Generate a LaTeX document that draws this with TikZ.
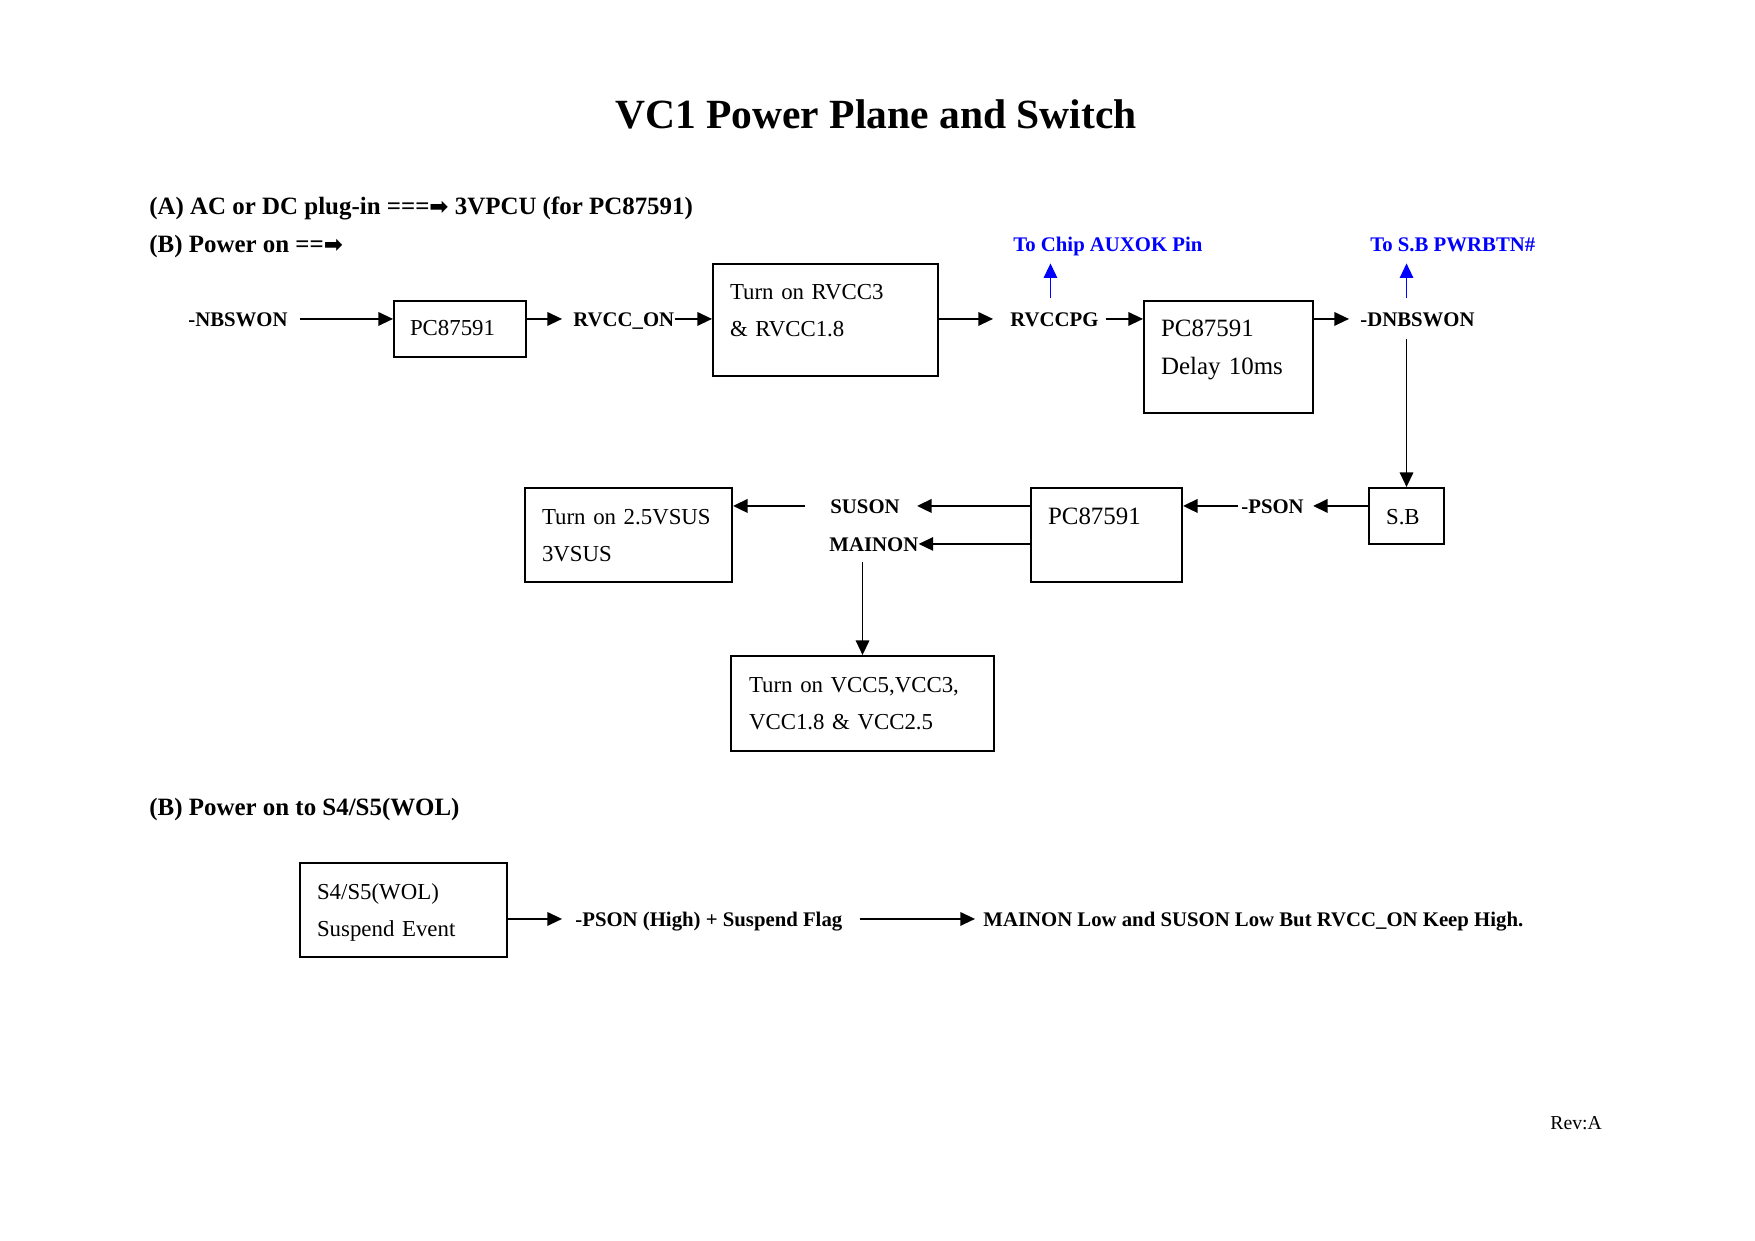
\documentclass[tikz,border=0pt]{standalone}
\usepackage{fontspec}
\setmainfont{Liberation Serif}
\newfontfamily\dingfont{DejaVu Sans}
\usetikzlibrary{arrows.meta,calc}
\newdimen\pxu
\pxu=0.16923mm
\definecolor{sigblue}{RGB}{0,0,255}

\begin{document}
\begin{tikzpicture}[x=0.16923mm, y=-0.16923mm, >={Triangle[length=7pt,width=6.5pt]},
    blk/.style={draw, line width=1pt, anchor=north west, align=left, inner ysep=0pt,
        inner xsep=17\pxu, font=\fontsize{11}{17.8}\selectfont},
    lbl/.style={anchor=base west, inner sep=0pt, text height=6.8pt, text depth=0pt,
        font=\bfseries\fontsize{10}{12}\selectfont},
    head/.style={anchor=base west, inner sep=0pt, font=\bfseries\fontsize{12}{14}\selectfont},
    wire/.style={->, line width=0.7pt},
    bus/.style={->, line width=1.1pt}]
    \useasboundingbox (0,0) rectangle (1755,1240);

    % Titolo e intestazioni
    \node[anchor=base, inner sep=0pt, font=\bfseries\fontsize{20}{24}\selectfont] (title) at (876,128)
        {VC1 Power Plane and Switch};
    \node[head] (headA) at (149,214) {(A) AC or DC plug-in ===\mbox{\dingfont\fontsize{11}{14}\selectfont ➡} 3VPCU (for PC87591)};
    \node[head] (headB) at (149,252) {(B) Power on ==\mbox{\dingfont\fontsize{11}{14}\selectfont ➡}};
    \node[head] (headC) at (149,815) {(B) Power on to S4/S5(WOL)};
    \node[anchor=base west, inner sep=0pt, font=\fontsize{9.5}{11}\selectfont] (rev) at (1550,1129) {Rev:A};

    % Blocchi
    \node[blk, inner xsep=16\pxu, text width=100\pxu, text height=34\pxu, text depth=22\pxu] (pc1) at (393,300) {PC87591};
    \node[blk, text width=191\pxu, text height=35\pxu, text depth=77\pxu] (rvcc) at (712,263) {Turn on RVCC3\\\& RVCC1.8};
    \node[blk, font=\fontsize{12}{18.3}\selectfont, text width=135\pxu, text height=35\pxu, text depth=77\pxu] (dly) at (1143,300) {PC87591\\Delay 10ms};
    \node[blk, text width=41\pxu, text height=36\pxu, text depth=20\pxu] (sb) at (1368,487) {S.B};
    \node[blk, font=\fontsize{12}{18.3}\selectfont, text width=117\pxu, text height=36\pxu, text depth=58\pxu] (pc2) at (1030,487) {PC87591};
    \node[blk, text width=173\pxu, text height=36\pxu, text depth=58\pxu] (sus) at (524,487) {Turn on 2.5VSUS\\3VSUS};
    \node[blk, inner xsep=18\pxu, text width=227\pxu, text height=36\pxu, text depth=59\pxu] (vcc) at (730,655) {Turn on VCC5,VCC3,\\VCC1.8 \& VCC2.5};
    \node[blk, text width=173\pxu, text height=36\pxu, text depth=58\pxu] (wol) at (299,862) {S4/S5(WOL)\\Suspend Event};

    % Segnali
    \node[lbl] (nbswon) at (188,326) {-NBSWON};
    \node[lbl] (rvccon) at (573,326) {RVCC\_ON};
    \node[lbl] (rvccpg) at (1010,326) {RVCCPG};
    \node[lbl] (dnbswon) at (1360,326) {-DNBSWON};
    \node[lbl, text=sigblue] (toauxok) at (1013,251) {To Chip AUXOK Pin};
    \node[lbl, text=sigblue] (topwrbtn) at (1370,251) {To S.B PWRBTN\#};
    \node[lbl] (pson) at (1241,513) {-PSON};
    \node[lbl] (suson) at (830,513) {SUSON};
    \node[lbl] (mainon) at (829,551) {MAINON};
    \node[lbl] (psonflag) at (575,926) {-PSON (High) + Suspend Flag};
    \node[lbl] (mainlow) at (983,926) {MAINON Low and SUSON Low But RVCC\_ON Keep High.};

    % Riga 1
    \draw[wire] ($(nbswon.east)+(12,0)$) -- (nbswon.east -| pc1.west);
    \draw[wire] (pc1.east |- rvccon.west) -- ($(rvccon.west)+(-11,0)$);
    \draw[wire] (rvccon.east) -- (rvccon.east -| rvcc.west);
    \draw[wire] (rvcc.east |- rvccpg.west) -- ($(rvccpg.west)+(-17,0)$);
    \draw[wire] ($(rvccpg.east)+(7,0)$) -- (rvccpg.east -| dly.west);
    \draw[wire] (dly.east |- dnbswon.west) -- ($(dnbswon.west)+(-11,0)$);
    \draw[wire] ($(sb.north |- dnbswon.south)+(0,13)$) -- (sb.north);

    % Frecce blu
    \draw[wire, sigblue] ($(rvccpg.north)+(-4,-13)$) -- ($(rvccpg.north |- toauxok.south)+(-4,12)$);
    \draw[wire, sigblue] ($(sb.north |- dnbswon.north)+(0,-13)$) -- ($(sb.north |- topwrbtn.south)+(0,12)$);

    % Riga 2
    \draw[bus] (sb.west |- pson.east) -- ($(pson.east)+(9,0)$);
    \draw[bus] ($(pson.west)+(-3,0)$) -- (pson.west -| pc2.east);
    \draw[bus] (pc2.west |- suson.east) -- ($(suson.east)+(17,0)$);
    \draw[bus] ($(suson.west)+(-25,0)$) -- (suson.west -| sus.east);
    \draw[wire] (pc2.west |- mainon.east) -- (mainon.east);
    \draw[wire] ($(vcc.north |- mainon.south)+(0,11)$) -- (vcc.north);

    % Riga S4/S5
    \draw[wire] (wol.east |- psonflag.west) -- ($(psonflag.west)+(-13,0)$);
    \draw[wire] ($(psonflag.east)+(17,0)$) -- ($(mainlow.west)+(-8,0)$);

\end{tikzpicture}
\end{document}
